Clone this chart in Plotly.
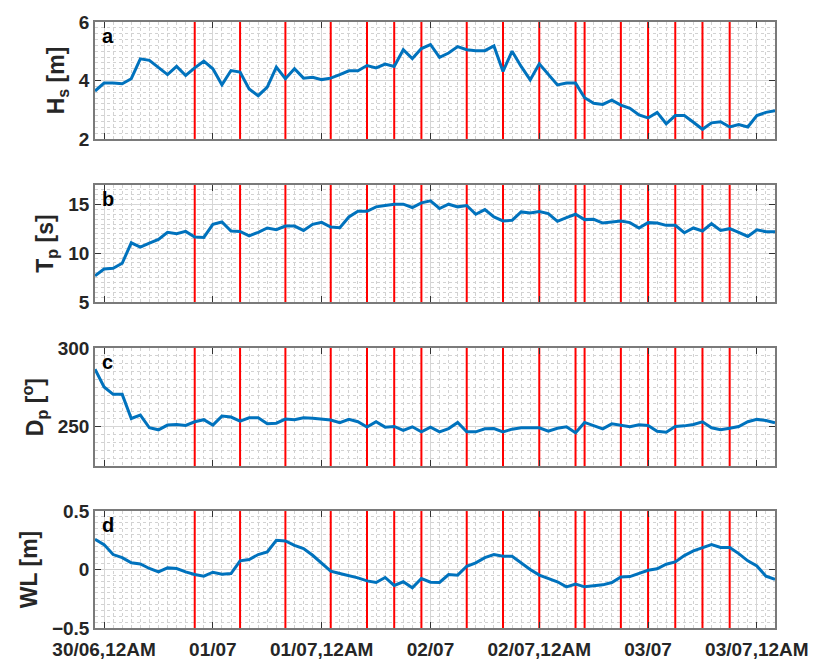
import pandas as pd
import plotly.graph_objects as go
from plotly.subplots import make_subplots

# Hourly wave / water-level record
times = pd.date_range("2019-06-30 11:00", periods=76, freq="h")

hs = [3.64, 3.91, 3.91, 3.89, 4.06, 4.74, 4.69, 4.45, 4.20, 4.48,
      4.17, 4.43, 4.66, 4.40, 3.85, 4.34, 4.29, 3.71, 3.48, 3.77,
      4.46, 4.06, 4.40, 4.08, 4.11, 4.03, 4.08, 4.20, 4.33, 4.33,
      4.51, 4.43, 4.56, 4.48, 5.05, 4.75, 5.09, 5.23, 4.79, 4.94,
      5.16, 5.05, 5.02, 5.02, 5.18, 4.31, 5.00, 4.48, 4.02, 4.57,
      4.22, 3.85, 3.91, 3.91, 3.41, 3.22, 3.18, 3.33, 3.16, 3.05,
      2.82, 2.72, 2.91, 2.52, 2.80, 2.80, 2.57, 2.33, 2.55, 2.59,
      2.41, 2.49, 2.41, 2.80, 2.91, 2.97]

tp = [7.69, 8.38, 8.45, 8.97, 11.07, 10.62, 11.03, 11.41, 12.14, 12.00,
      12.24, 11.66, 11.62, 12.97, 13.21, 12.28, 12.24, 11.79, 12.14, 12.59,
      12.41, 12.79, 12.79, 12.34, 12.97, 13.17, 12.69, 12.62, 13.72, 14.31,
      14.31, 14.76, 14.90, 15.03, 15.03, 14.69, 15.17, 15.38, 14.59, 15.03,
      14.76, 14.90, 14.00, 14.48, 13.72, 13.31, 13.38, 14.24, 14.14, 14.28,
      14.07, 13.28, 13.66, 14.00, 13.45, 13.48, 13.10, 13.21, 13.31, 13.14,
      12.59, 13.14, 13.10, 12.86, 12.86, 12.10, 12.59, 12.28, 13.03, 12.34,
      12.52, 12.14, 11.72, 12.41, 12.21, 12.21]

dp = [286.6, 275.3, 270.6, 270.6, 255.3, 257.4, 249.4, 248.1, 251.1, 251.5,
      250.9, 253.2, 254.5, 251.1, 256.8, 256.2, 253.6, 255.7, 255.7, 251.9,
      252.3, 254.9, 254.5, 255.7, 255.5, 255.1, 254.3, 252.6, 254.7, 253.2,
      249.8, 253.2, 249.8, 250.2, 247.7, 250.0, 246.8, 249.8, 246.8, 248.9,
      252.8, 246.8, 246.8, 248.7, 248.9, 246.8, 248.5, 249.4, 249.6, 249.4,
      247.2, 249.1, 250.0, 246.2, 252.8, 250.6, 248.7, 251.9, 251.1, 250.0,
      251.3, 250.9, 247.2, 246.6, 250.2, 250.6, 251.5, 253.2, 249.4, 248.1,
      249.1, 250.2, 253.2, 254.7, 254.0, 252.6]

wl = [0.259, 0.213, 0.128, 0.102, 0.057, 0.048, 0.009, -0.020, 0.014, 0.009,
      -0.020, -0.043, -0.057, -0.023, -0.040, -0.034, 0.074, 0.085, 0.128, 0.150,
      0.250, 0.244, 0.207, 0.179, 0.122, 0.051, -0.014, -0.034, -0.051, -0.071,
      -0.097, -0.111, -0.068, -0.136, -0.105, -0.156, -0.077, -0.108, -0.111, -0.043,
      -0.048, 0.028, 0.057, 0.102, 0.128, 0.114, 0.114, 0.057, 0.000, -0.048,
      -0.077, -0.105, -0.148, -0.125, -0.148, -0.139, -0.131, -0.111, -0.063, -0.060,
      -0.034, -0.006, 0.006, 0.045, 0.065, 0.119, 0.159, 0.185, 0.213, 0.188,
      0.188, 0.136, 0.074, 0.031, -0.057, -0.085]

# Times of the marked events (red vertical lines)
event_times = ["2019-06-30 22:00", "2019-07-01 03:00", "2019-07-01 08:00",
               "2019-07-01 13:00", "2019-07-01 17:00", "2019-07-01 20:00",
               "2019-07-01 23:00", "2019-07-02 04:00", "2019-07-02 08:00",
               "2019-07-02 12:00", "2019-07-02 16:00", "2019-07-02 17:00",
               "2019-07-02 21:00", "2019-07-03 00:00", "2019-07-03 03:00",
               "2019-07-03 06:00", "2019-07-03 09:00"]

tick_times = ["2019-06-30 12:00", "2019-07-01 00:00", "2019-07-01 12:00",
              "2019-07-02 00:00", "2019-07-02 12:00", "2019-07-03 00:00",
              "2019-07-03 12:00"]
tick_labels = ["30/06,12AM", "01/07", "01/07,12AM", "02/07", "02/07,12AM",
               "03/07", "03/07,12AM"]

panels = [
    dict(values=hs, title="H<sub>s</sub> [m]", rng=[2, 6], ticks=[2, 4, 6],
         minor=0.2, letter="a", domain=[0.807, 1.0]),
    dict(values=tp, title="T<sub>p</sub> [s]", rng=[5, 17], ticks=[5, 10, 15],
         minor=0.5, letter="b", domain=[0.538, 0.731]),
    dict(values=dp, title="D<sub>p</sub> [<sup>o</sup>]", rng=[225, 300],
         ticks=[250, 300], minor=5, letter="c", domain=[0.267, 0.462]),
    dict(values=wl, title="WL [m]", rng=[-0.5, 0.5], ticks=[-0.5, 0, 0.5],
         minor=0.05, letter="d", domain=[0.0, 0.193]),
]

FONT = "Liberation Sans, Arial, Helvetica, sans-serif"
LINE_BLUE = "#0072BD"
BOX = "#7a7a7a"
MAJOR_GRID = "#d6d6d6"
MINOR_GRID = "#d2d2d2"
TEXT = "#262626"

fig = make_subplots(rows=4, cols=1)

annotations = []
for k, p in enumerate(panels, start=1):
    # event markers: one vertical segment per event spanning the panel's y range
    ex, ey = [], []
    for t in event_times:
        ex += [t, t, None]
        ey += [p["rng"][0], p["rng"][1], None]
    fig.add_trace(
        go.Scatter(x=ex, y=ey, mode="lines", line=dict(color="#ff0000", width=2),
                   hoverinfo="skip", showlegend=False),
        row=k, col=1)

    fig.add_trace(
        go.Scatter(x=times, y=p["values"], mode="lines",
                   line=dict(color=LINE_BLUE, width=3), showlegend=False),
        row=k, col=1)

    xa = "x" if k == 1 else f"x{k}"
    ya = "y" if k == 1 else f"y{k}"
    annotations.append(dict(text=f"<b>{p['letter']}</b>", xref=f"{xa} domain",
                            yref=f"{ya} domain", x=0.008, y=1.0, yshift=-1,
                            xanchor="left", yanchor="top", showarrow=False,
                            font=dict(family=FONT, size=20, color="#000")))

    fig.update_xaxes(
        row=k, col=1, type="date",
        range=[times[0], times[-1]],
        domain=[0, 1], automargin=False,
        tickvals=tick_times, ticktext=tick_labels,
        showticklabels=(k == 4), ticklabelstandoff=3,
        ticks="inside", ticklen=6, tickwidth=1.2, tickcolor="#333",
        showline=True, linecolor=BOX, linewidth=1.5, mirror="ticks",
        showgrid=True, gridcolor=MAJOR_GRID, gridwidth=1,
        minor=dict(dtick=3600000, tick0="2019-06-30 12:00", showgrid=True,
                   gridcolor=MINOR_GRID, griddash="dot", gridwidth=1),
        tickfont=dict(family=FONT, size=19, color=TEXT, weight="bold"),
        zeroline=False,
    )
    fig.update_yaxes(
        row=k, col=1,
        range=p["rng"], domain=p["domain"], automargin=False,
        tickvals=p["ticks"],
        ticks="inside", ticklen=6, tickwidth=1.2, tickcolor="#333",
        showline=True, linecolor=BOX, linewidth=1.5, mirror="ticks",
        showgrid=True, gridcolor=MAJOR_GRID, gridwidth=1,
        minor=dict(dtick=p["minor"], tick0=p["rng"][0], showgrid=True,
                   gridcolor=MINOR_GRID, griddash="dot", gridwidth=1),
        tickfont=dict(family=FONT, size=19, color=TEXT, weight="bold"),
        title=dict(text=f"<b>{p['title']}</b>", standoff=8,
                   font=dict(family=FONT, size=23, color=TEXT)),
        zeroline=False,
    )

fig.update_layout(
    width=813, height=659,
    margin=dict(l=95, r=38, t=22, b=31, autoexpand=False),
    paper_bgcolor="white", plot_bgcolor="white",
    annotations=annotations,
    showlegend=False,
)

fig.write_html("out.html")
